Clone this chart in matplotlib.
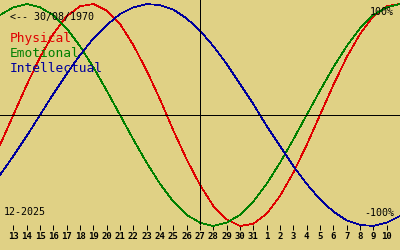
import matplotlib
matplotlib.use('Agg')
import matplotlib.pyplot as plt

# days shown: 12 Dec 2025 .. 11 Jan 2026, today = 27 Dec
day_labels = [str(d) for d in range(13, 32)] + [str(d) for d in range(1, 11)]
today_idx = 15

physical = [-0.27, 0.00, 0.27, 0.52, 0.73, 0.89, 0.98, 1.00, 0.94, 0.82, 0.63,
            0.40, 0.14, -0.14, -0.40, -0.63, -0.82, -0.94, -1.00, -0.98, -0.89,
            -0.73, -0.52, -0.27, 0.00, 0.27, 0.52, 0.73, 0.89, 0.98, 1.00]
emotional = [0.90, 0.97, 1.00, 0.97, 0.90, 0.78, 0.62, 0.43, 0.22, 0.00, -0.22,
             -0.43, -0.62, -0.78, -0.90, -0.97, -1.00, -0.97, -0.90, -0.78, -0.62,
             -0.43, -0.22, 0.00, 0.22, 0.43, 0.62, 0.78, 0.90, 0.97, 1.00]
intellectual = [-0.54, -0.37, -0.19, 0.00, 0.19, 0.37, 0.54, 0.69, 0.81, 0.91, 0.97,
                1.00, 0.99, 0.95, 0.87, 0.76, 0.62, 0.46, 0.28, 0.10, -0.10,
                -0.28, -0.46, -0.62, -0.76, -0.87, -0.95, -0.99, -1.00, -0.97, -0.91]

bg = '#e0d185'
colors = {'Physical': '#e00000', 'Emotional': '#008000', 'Intellectual': '#00009c'}
mono = 'DejaVu Sans Mono'
lw = 0.72  # one pixel at 100 dpi

fig = plt.figure(figsize=(4, 2.5), dpi=100, facecolor=bg)
ax = fig.add_axes([0, 0.1, 1, 0.9])
ax.set_facecolor(bg)
ax.set_xlim(0, 30)
ax.set_ylim(-0.991, 1.036)

days = list(range(len(physical)))
for name, vals in [('Physical', physical), ('Emotional', emotional), ('Intellectual', intellectual)]:
    ax.plot(days, vals, color=colors[name], lw=0.5, antialiased=False, clip_on=False)

ax.axhline(0, color='black', lw=lw, antialiased=False)
ax.axvline(today_idx, color='black', lw=lw, antialiased=False)

for s in ax.spines.values():
    s.set_visible(False)
ax.set_yticks([])
ax.set_xticks(range(1, len(day_labels) + 1))
ax.set_xticklabels(day_labels, fontfamily=mono, fontsize=6.5, fontweight='bold')
ax.tick_params(axis='x', direction='out', length=3.6, width=lw, pad=1.5, colors='black')

ax.text(0.025, 0.925, '<-- 30/08/1970', transform=ax.transAxes, fontfamily=mono,
        fontsize=7.2, va='center', ha='left')
for i, name in enumerate(['Physical', 'Emotional', 'Intellectual']):
    ax.text(0.025, 0.83 - i * 0.067, name, transform=ax.transAxes, fontfamily=mono,
            fontsize=9.3, color=colors[name], va='center', ha='left')
ax.text(0.985, 0.947, '100%', transform=ax.transAxes, fontfamily=mono,
        fontsize=7.2, va='center', ha='right')
ax.text(0.985, 0.053, '-100%', transform=ax.transAxes, fontfamily=mono,
        fontsize=7.2, va='center', ha='right')
ax.text(0.01, 0.058, '12-2025', transform=ax.transAxes, fontfamily=mono,
        fontsize=7.2, va='center', ha='left')

fig.savefig('out.png', dpi=100, facecolor=bg)
